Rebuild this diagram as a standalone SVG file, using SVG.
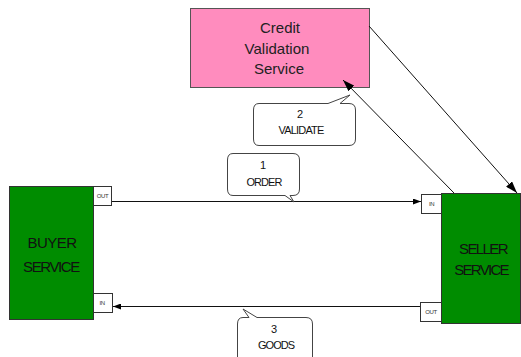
<svg xmlns="http://www.w3.org/2000/svg" width="521" height="357" viewBox="0 0 521 357">
  <defs>
    <marker id="arrowBig" viewBox="0 0 12 8" refX="12" refY="4" markerWidth="12" markerHeight="8" markerUnits="userSpaceOnUse" orient="auto">
      <path d="M0,0 L12,4 L0,8 Z" fill="#000"/>
    </marker>
    <marker id="arrowSmall" viewBox="0 0 8 6" refX="8" refY="3" markerWidth="8" markerHeight="6" markerUnits="userSpaceOnUse" orient="auto">
      <path d="M0,0 L8,3 L0,6 Z" fill="#000"/>
    </marker>
    <style>
      .svc { fill: #008c00; stroke: #333; stroke-width: 1; }
      .credit { fill: #ff8cbe; stroke: #555; stroke-width: 1; }
      .port { fill: #fff; stroke: #333; stroke-width: 1; }
      .port-text { font-family: "Liberation Sans", Arial, sans-serif; font-size: 6px; fill: #333; text-anchor: middle; letter-spacing: -0.4px; }
      .svc-text { font-family: "Liberation Sans", Arial, sans-serif; font-size: 15px; fill: #111; text-anchor: middle; }
      .credit-text { font-family: "Liberation Sans", Arial, sans-serif; font-size: 15px; fill: #222; text-anchor: middle; }
      .callout { fill: #fff; stroke: #444; stroke-width: 1; }
      .callout-text { font-family: "Liberation Sans", Arial, sans-serif; font-size: 11px; fill: #111; text-anchor: middle; }
      .conn { stroke: #111; stroke-width: 1; fill: none; }
    </style>
  </defs>

  <!-- Credit validation service -->
  <g id="credit-validation">
    <rect class="credit" x="190.5" y="8.5" width="179" height="79"/>
    <text class="credit-text" x="280" y="33">Credit</text>
    <text class="credit-text" x="277" y="54">Validation</text>
    <text class="credit-text" x="279" y="74">Service</text>
  </g>

  <!-- Buyer service with its ports -->
  <g id="buyer-service">
    <rect class="svc" x="9.5" y="186.5" width="84" height="133"/>
    <text class="svc-text" x="52" y="248" letter-spacing="-0.5">BUYER</text>
    <text class="svc-text" x="51" y="272" letter-spacing="-1.4">SERVICE</text>
    <rect class="port" x="93.5" y="186.5" width="18" height="19"/>
    <text class="port-text" x="102.5" y="198">OUT</text>
    <rect class="port" x="93.5" y="293.5" width="19" height="19"/>
    <text class="port-text" x="102" y="305">IN</text>
  </g>

  <!-- Seller service with its ports -->
  <g id="seller-service">
    <rect class="svc" x="441.5" y="193.5" width="79" height="130"/>
    <text class="svc-text" x="483" y="254" letter-spacing="-1.6">SELLER</text>
    <text class="svc-text" x="481" y="275" letter-spacing="-1.7">SERVICE</text>
    <rect class="port" x="421.5" y="194.5" width="20" height="19"/>
    <text class="port-text" x="431.5" y="206">IN</text>
    <rect class="port" x="420.5" y="302.5" width="21" height="19"/>
    <text class="port-text" x="431" y="314">OUT</text>
  </g>

  <!-- Message flows -->
  <g id="connectors">
    <line class="conn" x1="112" y1="201.5" x2="421" y2="201.5" marker-end="url(#arrowSmall)"/>
    <line class="conn" x1="420" y1="306.5" x2="113" y2="306.5" marker-end="url(#arrowSmall)"/>
    <line class="conn" x1="454" y1="193" x2="343" y2="80" marker-end="url(#arrowBig)"/>
    <line class="conn" x1="369" y1="26" x2="517" y2="193" marker-end="url(#arrowBig)"/>
  </g>

  <!-- Step callouts -->
  <g id="callout-order">
    <path class="callout" d="M233,153.5 H293 Q299.5,153.5 299.5,160 V189 Q299.5,195.5 293,195.5 H290 L294,202 L285,195.5 H233 Q227.5,195.5 227.5,189 V160 Q227.5,153.5 233,153.5 Z"/>
    <text class="callout-text" x="263" y="169">1</text>
    <text class="callout-text" x="264" y="186" letter-spacing="-0.9">ORDER</text>
  </g>

  <g id="callout-validate">
    <path class="callout" d="M259,103.5 H328 L350,95 L340,103.5 H349 Q355.5,103.5 355.5,110 V139 Q355.5,145.5 349,145.5 H259 Q253.5,145.5 253.5,139 V110 Q253.5,103.5 259,103.5 Z"/>
    <text class="callout-text" x="300" y="118">2</text>
    <text class="callout-text" x="301" y="134" letter-spacing="-0.8">VALIDATE</text>
  </g>

  <g id="callout-goods">
    <path class="callout" d="M243,317.5 H249 L243,309 L257,317.5 H306 Q312.5,317.5 312.5,324 V362 H237.5 V324 Q237.5,317.5 243,317.5 Z"/>
    <text class="callout-text" x="274" y="333">3</text>
    <text class="callout-text" x="276" y="349" letter-spacing="-1">GOODS</text>
  </g>
</svg>
